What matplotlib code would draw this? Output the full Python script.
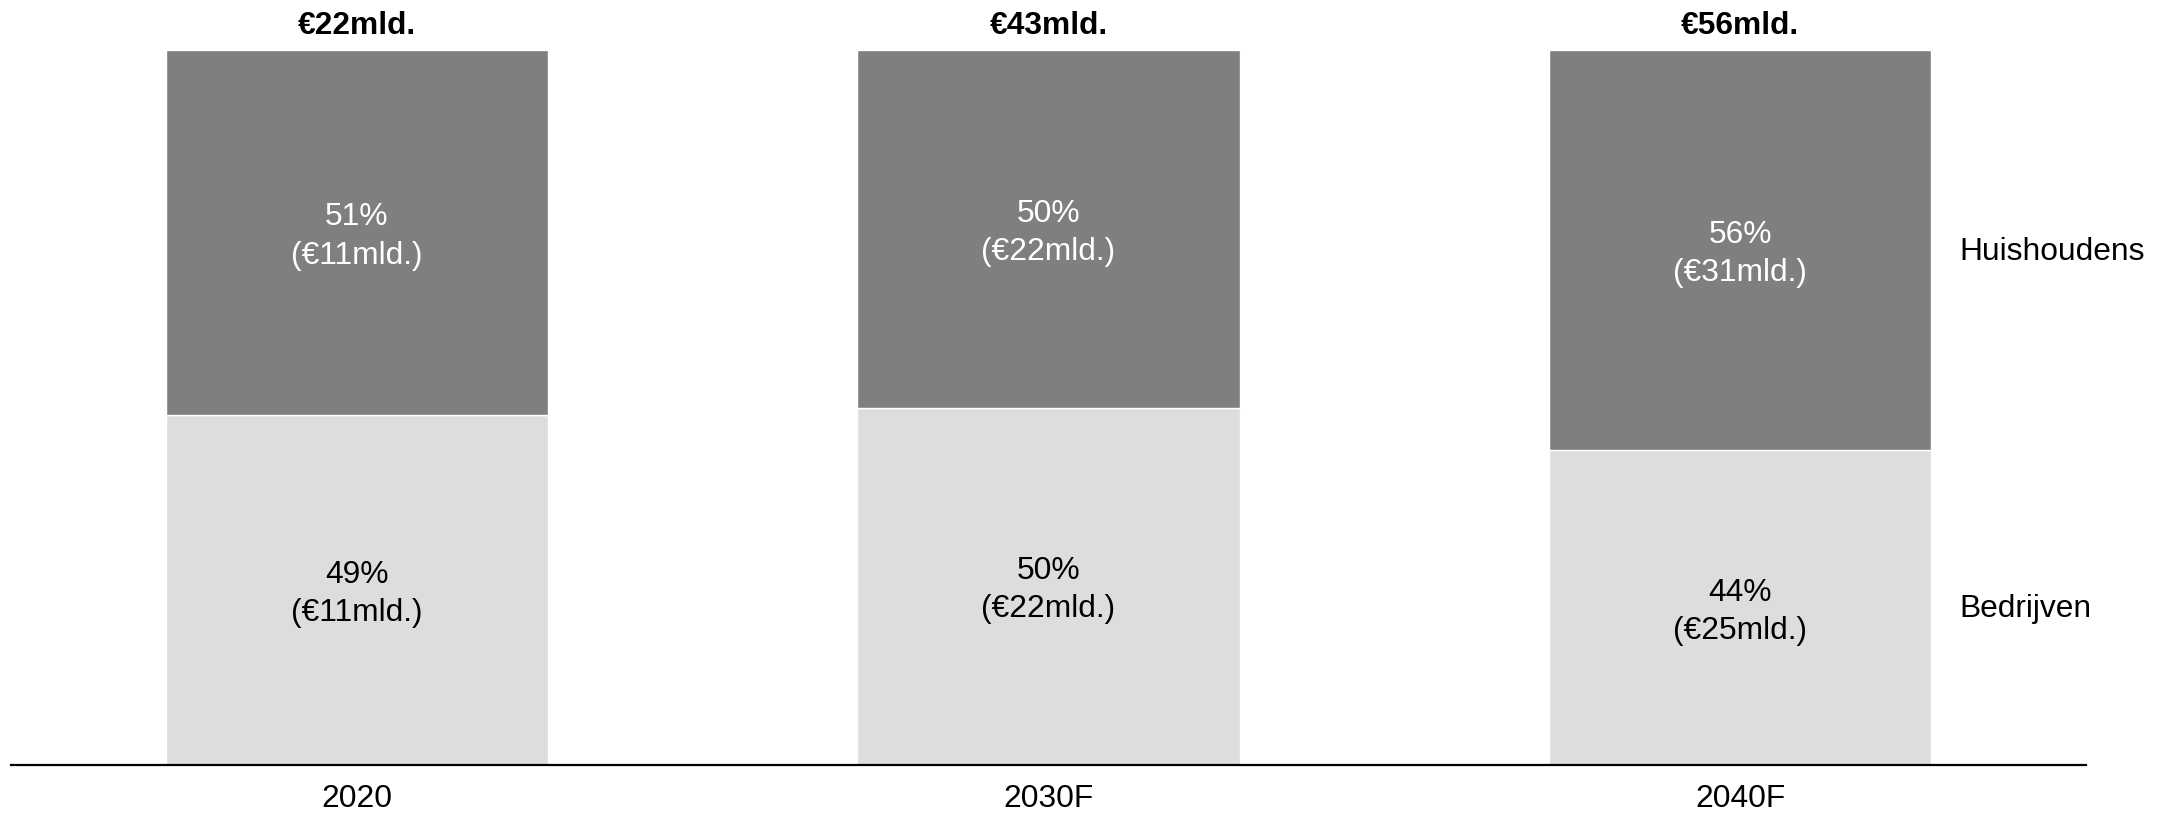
import matplotlib
matplotlib.use("Agg")
import matplotlib.pyplot as plt

plt.rcParams['font.family'] = ['Liberation Sans', 'DejaVu Sans']

categories = ["2020", "2030F", "2040F"]
totals = [22, 43, 56]
bedrijven_pct = [49, 50, 44]
huishoudens_pct = [51, 50, 56]
bedrijven_val = [11, 22, 25]
huishoudens_val = [11, 22, 31]
series_names = ["Bedrijven", "Huishoudens"]

fig = plt.figure(figsize=(21.59, 8.14), dpi=100)
ax = fig.add_axes([11/2159, (814-765)/814, (2086-11)/2159, (765-50)/814])

x = list(range(len(categories)))
w = 0.5525
c_light = "#dddddd"
c_dark = "#7f7f7f"
ax.bar(x, bedrijven_pct, width=w, color=c_light, edgecolor="white", linewidth=1)
ax.bar(x, huishoudens_pct, width=w, bottom=bedrijven_pct, color=c_dark, edgecolor="white", linewidth=1)

fs = 22.9
for i in x:
    b = bedrijven_pct[i]
    h = huishoudens_pct[i]
    ax.annotate(f"{b}%\n(€{bedrijven_val[i]}mld.)", xy=(i, b / 2), xytext=(0, -3),
                textcoords="offset points", ha="center", va="center",
                fontsize=fs, color="black", linespacing=1.35)
    ax.annotate(f"{h}%\n(€{huishoudens_val[i]}mld.)", xy=(i, b + h / 2), xytext=(0, -3),
                textcoords="offset points", ha="center", va="center",
                fontsize=fs, color="white", linespacing=1.35)
    ax.annotate(f"€{totals[i]}mld.", xy=(i, 100), xytext=(0, 17.5), textcoords="offset points",
                ha="center", va="center", fontsize=fs, fontweight="bold", color="black")

last = len(categories) - 1
ax.annotate(series_names[1], xy=(last + w / 2, bedrijven_pct[last] + huishoudens_pct[last] / 2),
            xytext=(20, -1), textcoords="offset points", ha="left", va="center", fontsize=fs)
ax.annotate(series_names[0], xy=(last + w / 2, bedrijven_pct[last] / 2),
            xytext=(20, -1), textcoords="offset points", ha="left", va="center", fontsize=fs)

ax.set_xlim(-0.5, 2.5)
ax.set_ylim(0, 100)
ax.set_xticks(x)
ax.set_xticklabels(categories, fontsize=fs)
ax.tick_params(axis="x", length=0, pad=13.5)
ax.set_yticks([])
for s in ["top", "right", "left"]:
    ax.spines[s].set_visible(False)
ax.spines["bottom"].set_linewidth(1.6)
ax.spines["bottom"].set_color("black")

fig.savefig("out.png", dpi=100)
